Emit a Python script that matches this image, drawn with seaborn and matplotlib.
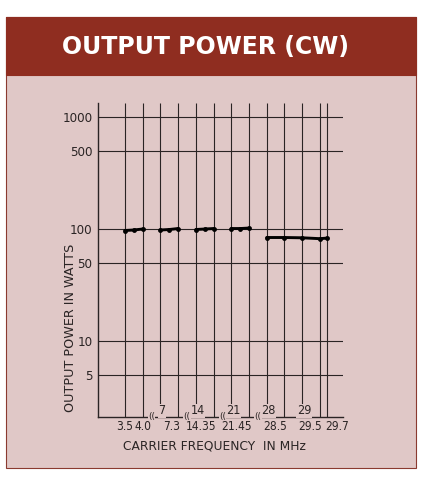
import numpy as np
import pandas as pd
import matplotlib
matplotlib.use("Agg")
import matplotlib.pyplot as plt
import seaborn as sns
from matplotlib import font_manager
from matplotlib.patches import Rectangle

# Band data
band_names = ["80m", "40m", "20m", "15m", "10m"]
band_start_mhz = [3.5, 7.0, 14.0, 21.0, 28.0]
band_mhz_per_div = [0.5, 0.3, 0.35, 0.45, 0.5]   # scale inside each broken section
band_start_div = [0, 2, 4, 6, 8]

freq_mhz = [3.5, 3.75, 4.0,
            7.0, 7.15, 7.3,
            14.0, 14.175, 14.35,
            21.0, 21.225, 21.45,
            28.0, 28.5, 29.0, 29.5, 29.7]
freq_band = ["80m"] * 3 + ["40m"] * 3 + ["20m"] * 3 + ["15m"] * 3 + ["10m"] * 5
power_w = [97, 98, 100,
           98, 99, 101,
           99, 100, 101,
           101, 101, 102,
           84, 84, 83.5, 82, 83]

grid_freqs = [3.5, 4.0, 7.0, 7.3, 14.0, 14.35, 21.0, 21.45, 28.0, 28.5, 29.0, 29.5, 29.7]
upper_labels = ["7", "14", "21", "28", "29"]
lower_labels = ["3.5", "4.0", "7.3", "14.35", "21.45", "28.5", "29.5", "29.7"]
lower_ha = ["center", "center", "right", "right", "right", "right", "right", "left"]
y_ticks = [5, 10, 50, 100, 500, 1000]

PINK = "#e0c8c7"
HEADER = "#8f2d20"
INK = "#2a2424"

# narrow face for the numbers if one is around
NUM_FONT = dict(family="Liberation Sans")
cond = font_manager.findfont(font_manager.FontProperties(family="DejaVu Sans", stretch="condensed"))
if "ondensed" in cond:
    NUM_FONT = dict(family="DejaVu Sans", stretch="condensed")
try:
    font_manager.findfont("Liberation Sans Narrow", fallback_to_default=False)
    NUM_FONT = dict(family="Liberation Sans Narrow")
except Exception:
    pass


def to_div(f):
    # map MHz onto the broken horizontal axis
    for i in range(len(band_start_mhz) - 1, -1, -1):
        if f >= band_start_mhz[i] - 1e-9:
            return band_start_div[i] + (f - band_start_mhz[i]) / band_mhz_per_div[i]
    return 0.0


df = pd.DataFrame({"band": freq_band, "freq": freq_mhz, "power": power_w})
df["pos"] = df["freq"].apply(to_div)

sns.set_style("white")
plt.rcParams["font.family"] = ["DejaVu Sans"]

fig = plt.figure(figsize=(4.39, 5.00), dpi=100)
W, H = 439, 500

# panel + header
fig.patches.append(Rectangle((6 / W, 1 - 468 / H), 410 / W, 451 / H, transform=fig.transFigure,
                             facecolor=PINK, edgecolor="#8a3a30", linewidth=0.8, zorder=-2))
fig.patches.append(Rectangle((6 / W, 1 - 75 / H), 410 / W, 58 / H, transform=fig.transFigure,
                             facecolor=HEADER, edgecolor=HEADER, linewidth=0.8, zorder=-1))
fig.text(206 / W, 1 - 47 / H, "OUTPUT POWER (CW)", color="white", fontsize=17,
         fontweight="bold", ha="center", va="center")

ax = fig.add_axes([98 / W, 1 - 417 / H, 245 / W, 314 / H])
ax.set_zorder(2)
ax.set_facecolor("none")
ax.set_yscale("log")
ax.set_ylim(2.1, 1333)
ax.set_xlim(-1.52, 12.3)

# grid
grid_pos = [to_div(f) for f in grid_freqs]
ax.vlines(grid_pos, 2.1, 1333, color=INK, linewidth=0.8, zorder=1)
ax.hlines(y_ticks, -1.52, 12.3, color=INK, linewidth=0.8, zorder=1)

sns.lineplot(data=df, x="pos", y="power", units="band", estimator=None, color="black",
             linewidth=2.1, marker="o", markersize=3.5, markeredgewidth=0, ax=ax, zorder=4)

for s in ["top", "right"]:
    ax.spines[s].set_visible(False)
for s in ["left", "bottom"]:
    ax.spines[s].set_color(INK)
    ax.spines[s].set_linewidth(1.0)

ax.set_yticks(y_ticks)
ax.set_yticklabels([str(v) for v in y_ticks], **NUM_FONT)
ax.yaxis.set_minor_locator(plt.NullLocator())
ax.tick_params(axis="y", length=2, width=0.8, color=INK, pad=2, labelsize=9.5, labelcolor=INK)
ax.set_xticks([])
ax.set_xlabel("")
ax.set_ylabel("")

trans = ax.get_xaxis_transform()
# upper labels (band starts)
for lab in upper_labels:
    ax.text(to_div(float(lab)) + 0.1, 0.008, lab, transform=trans, ha="center", va="baseline",
            fontsize=9, color=INK, zorder=5, **NUM_FONT,
            bbox=dict(facecolor=PINK, edgecolor="none", pad=0.3))
# lower labels
for lab, ha in zip(lower_labels, lower_ha):
    dx = {"center": 0, "right": 0.14, "left": -0.1}[ha]
    ax.text(to_div(float(lab)) + dx, -0.01, lab, transform=trans, ha=ha, va="top",
            fontsize=8.6, color=INK, **NUM_FONT)
# axis breaks between bands
for b in [1.5, 3.5, 5.5, 7.5]:
    ax.text(b, 0.002, "((", transform=trans, ha="center", va="center", fontsize=6.5,
            color=INK, zorder=6, clip_on=False,
            bbox=dict(facecolor=PINK, edgecolor="none", pad=0.1))

fig.text(214 / W, 1 - 446 / H, "CARRIER FREQUENCY  IN MHz", fontsize=8.8, color=INK,
         ha="center", va="center")
fig.text(71 / W, 1 - 328 / H, "OUTPUT POWER IN WATTS", fontsize=9.2, color=INK,
         ha="center", va="center", rotation=90)

fig.savefig("out.png", dpi=100, facecolor="white")
